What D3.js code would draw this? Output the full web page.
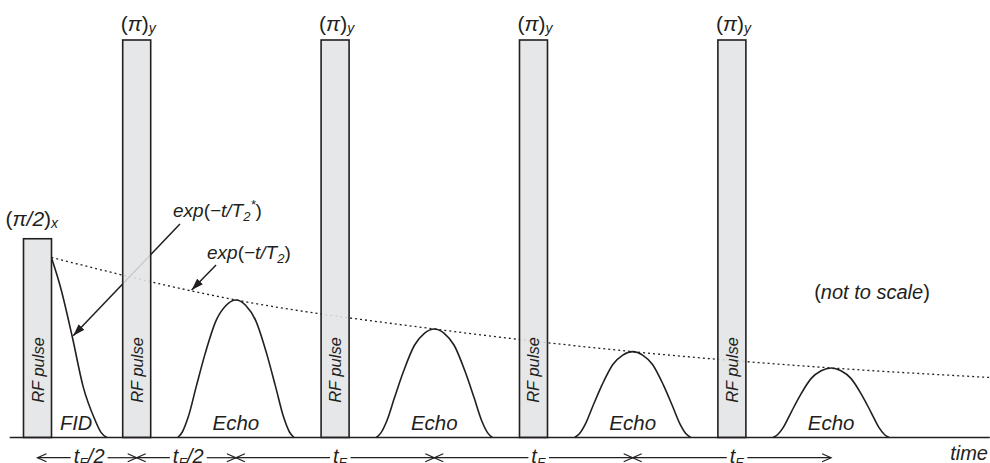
<!DOCTYPE html>
<html>
<head>
<meta charset="utf-8">
<script src="https://cdn.jsdelivr.net/npm/d3@7"></script>
<style>
  body { margin: 0; background: #fff; }
  text { font-family: "Liberation Sans", Arial, sans-serif; font-style: italic; fill: #231f20; }
  .up { font-style: normal; }
</style>
</head>
<body>
<script>
const w = 990; // width
const h = 463; // height

// pulses: time in units of tE/2, height relative to the pi pulse
const pulseT = [0, 1, 3, 5, 7];
const pulseAmp = [0.5, 1, 1, 1, 1];
const pulseAngle = ["π/2", "π", "π", "π", "π"];
const pulseAxis = ["x", "y", "y", "y", "y"];

// echoes: centre time and peak height
const echoT = [2, 4, 6, 8];
const echoAmp = [0.346, 0.273, 0.216, 0.175];
// echo profile: offset from centre and fraction of the peak
const echoOff = [0, 0.10, 0.20, 0.31, 0.40, 0.48, 0.54, 0.585];
const echoFrac = [1, 0.96, 0.85, 0.61, 0.37, 0.15, 0.04, 0];

// free induction decay after the first pulse
const fidT = [0.14, 0.23, 0.35, 0.46, 0.58, 0.64, 0.70];
const fidAmp = [0.453, 0.380, 0.254, 0.128, 0.044, 0.013, 0];

// T2 envelope (dotted)
const decayT = [0.14, 2, 4, 6, 8, 9.6];
const decayAmp = [0.453, 0.346, 0.273, 0.216, 0.175, 0.151];

// spacing arrows under the axis
const spanFrom = [0, 1, 2, 4, 6];
const spanTo = [1, 2, 4, 6, 8];
const spanSuffix = ["/2", "/2", "", "", ""];

let svg = d3.select("body")
    .append("svg")
    .attr("width", w)
    .attr("height", h);

// scales
let x = d3.scaleLinear().domain([0, 9.6]).range([37.5, 989.8]);
let y = d3.scaleLinear().domain([0, 1]).range([437.5, 40]);

let line = d3.line()
    .x(d => x(d[0]))
    .y(d => y(d[1]))
    .curve(d3.curveMonotoneX);

// arrow marker for the annotations
svg.append("defs").append("marker")
    .attr("id", "head")
    .attr("markerUnits", "userSpaceOnUse")
    .attr("viewBox", "0 0 12 8")
    .attr("refX", 12).attr("refY", 4)
    .attr("markerWidth", 12).attr("markerHeight", 8)
    .attr("orient", "auto")
    .append("path")
    .attr("d", "M0,0 L12,4 L0,8 Z")
    .attr("fill", "#231f20");

// T2 envelope
svg.append("path")
    .attr("d", line(decayT.map((t, i) => [t, decayAmp[i]])))
    .attr("fill", "none")
    .attr("stroke", "#231f20")
    .attr("stroke-width", 1.3)
    .attr("stroke-dasharray", "2,3");

// T2* annotation arrow (runs behind the second pulse)
svg.append("line")
    .attr("x1", x(1.436)).attr("y1", y(0.537))
    .attr("x2", x(0.36)).attr("y2", y(0.256))
    .attr("stroke", "#231f20")
    .attr("stroke-width", 1.5)
    .attr("marker-end", "url(#head)");

// T2 annotation arrow
svg.append("line")
    .attr("x1", x(1.80)).attr("y1", y(0.434))
    .attr("x2", x(1.554)).attr("y2", y(0.371))
    .attr("stroke", "#231f20")
    .attr("stroke-width", 1.5)
    .attr("marker-end", "url(#head)");

// FID
svg.append("path")
    .attr("d", line(fidT.map((t, i) => [t, fidAmp[i]])))
    .attr("fill", "none")
    .attr("stroke", "#231f20")
    .attr("stroke-width", 1.6);

// echoes
echoT.forEach((t, k) => {
    let pts = [];
    for (let i = echoOff.length - 1; i > 0; i--) pts.push([t - echoOff[i], echoFrac[i] * echoAmp[k]]);
    for (let i = 0; i < echoOff.length; i++) pts.push([t + echoOff[i], echoFrac[i] * echoAmp[k]]);
    svg.append("path")
        .attr("d", line(pts))
        .attr("fill", "none")
        .attr("stroke", "#231f20")
        .attr("stroke-width", 1.6);
});

// pulses
const pw = 28;
svg.selectAll("rect.pulse")
    .data(pulseT)
    .enter()
    .append("rect")
    .attr("class", "pulse")
    .attr("x", d => x(d) - pw / 2)
    .attr("width", pw)
    .attr("y", (d, i) => y(pulseAmp[i]))
    .attr("height", (d, i) => y(0) - y(pulseAmp[i]))
    .attr("fill", "#e3e4e5")
    .attr("fill-opacity", 0.88)
    .attr("stroke", "#231f20")
    .attr("stroke-width", 1.6);

// "RF pulse" inside each pulse
svg.selectAll("text.rf")
    .data(pulseT)
    .enter()
    .append("text")
    .attr("class", "rf")
    .attr("transform", d => `translate(${x(d)},370) rotate(-90)`)
    .attr("text-anchor", "middle")
    .attr("dominant-baseline", "central")
    .attr("font-size", 16.5)
    .text("RF pulse");

// pulse angle labels, e.g. (π)y
pulseT.forEach((t, i) => {
    let lab = svg.append("text")
        .attr("x", i === 0 ? x(t) - 32 : x(t) - 16)
        .attr("y", y(pulseAmp[i]) - (i === 0 ? 13 : 9.5))
        .attr("font-size", 21);
    lab.append("tspan").attr("class", "up").text("(");
    lab.append("tspan").text(pulseAngle[i]);
    lab.append("tspan").attr("class", "up").text(")");
    lab.append("tspan").attr("font-size", 14).attr("dy", 2).text(pulseAxis[i]);
});

// baseline
svg.append("line")
    .attr("x1", x(-0.28)).attr("x2", x(9.6))
    .attr("y1", y(0)).attr("y2", y(0))
    .attr("stroke", "#231f20")
    .attr("stroke-width", 1.6);

// signal labels
svg.append("text")
    .attr("x", 60).attr("y", 430)
    .attr("font-size", 20)
    .text("FID");

svg.selectAll("text.echo")
    .data(echoT)
    .enter()
    .append("text")
    .attr("class", "echo")
    .attr("x", d => x(d))
    .attr("y", 430)
    .attr("text-anchor", "middle")
    .attr("font-size", 20.5)
    .text("Echo");

// exp(-t/T2*) label
let e1 = svg.append("text").attr("x", 173).attr("y", 217).attr("font-size", 19);
e1.append("tspan").text("exp");
e1.append("tspan").attr("class", "up").text("(");
e1.append("tspan").text("−t/T");
e1.append("tspan").attr("font-size", 13).attr("dy", 4).text("2");
e1.append("tspan").attr("font-size", 13).attr("dy", -12).text("*");
e1.append("tspan").attr("class", "up").attr("dy", 8).text(")");

// exp(-t/T2) label
let e2 = svg.append("text").attr("x", 207).attr("y", 259).attr("font-size", 19);
e2.append("tspan").text("exp");
e2.append("tspan").attr("class", "up").text("(");
e2.append("tspan").text("−t/T");
e2.append("tspan").attr("font-size", 13).attr("dy", 4).text("2");
e2.append("tspan").attr("class", "up").attr("dy", -4).text(")");

// (not to scale)
let ns = svg.append("text").attr("x", 872).attr("y", 299).attr("text-anchor", "middle").attr("font-size", 20);
ns.append("tspan").attr("class", "up").text("(");
ns.append("tspan").text("not to scale");
ns.append("tspan").attr("class", "up").text(")");

// time axis label
svg.append("text")
    .attr("x", 988).attr("y", 460)
    .attr("text-anchor", "end")
    .attr("font-size", 20)
    .text("time");

// spacing arrows
const ay = 457.7;
spanFrom.forEach((f, i) => {
    let x1 = x(f), x2 = x(spanTo[i]);
    let mid = (x1 + x2) / 2 + (spanSuffix[i] ? 2 : 5);
    let lab = svg.append("text")
        .attr("x", mid).attr("y", 462.5)
        .attr("text-anchor", "middle")
        .attr("font-size", 20);
    lab.append("tspan").text("t");
    lab.append("tspan").attr("font-size", 13).attr("dy", 4).text("E");
    if (spanSuffix[i]) lab.append("tspan").attr("dy", -4).text(spanSuffix[i]);
    let bb = lab.node().getBBox();
    let g = svg.append("g")
        .attr("fill", "none")
        .attr("stroke", "#231f20")
        .attr("stroke-width", 1.2);
    g.append("line").attr("x1", x1).attr("x2", bb.x - 3).attr("y1", ay).attr("y2", ay);
    g.append("line").attr("x1", bb.x + bb.width + 3).attr("x2", x2).attr("y1", ay).attr("y2", ay);
    g.append("path").attr("d", `M${x1 + 9},${ay - 4} L${x1},${ay} L${x1 + 9},${ay + 4}`);
    g.append("path").attr("d", `M${x2 - 9},${ay - 4} L${x2},${ay} L${x2 - 9},${ay + 4}`);
});
</script>
</body>
</html>
